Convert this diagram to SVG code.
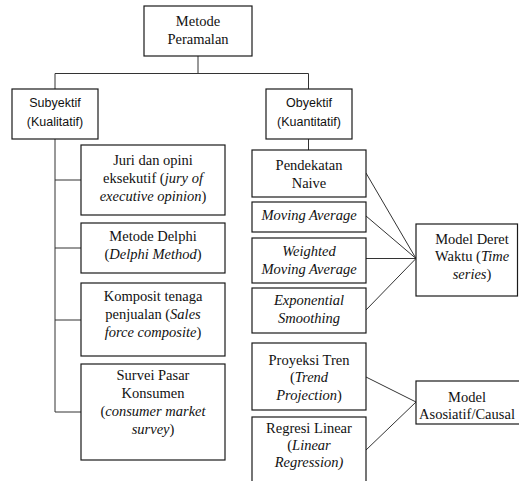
<svg xmlns="http://www.w3.org/2000/svg" width="519" height="481" viewBox="0 0 519 481">
<style>
.box{fill:#fff;stroke:#1a1a1a;stroke-width:1.2}
.t{font-family:"Liberation Serif","Times New Roman",serif;font-size:14.5px;fill:#111;text-anchor:middle}
.s{font-family:"Liberation Sans",Arial,sans-serif;font-size:12.5px;fill:#111;text-anchor:middle}
.i{font-style:italic}
.c{fill:none;stroke:#333;stroke-width:1}
</style>
<rect width="519" height="481" fill="#fff"/>
<g id="connectors">
<path class="c" d="M198 56V73.5M55 73.5H308.5M55 73.5V89M308.5 73.5V89"/>
<path class="c" d="M55 139V412M55 180H81M55 248H81M55 320H81M55 412H81"/>
<path class="c" d="M308.5 139V150"/>
<path class="c" d="M366 173L416 258.5M366 216L416 258.5M366 258.5H416M366 310L416 258.5"/>
<path class="c" d="M366 377L416 402M366 450L416 402"/>
</g>
<g id="metode-peramalan"><rect class="box" x="144" y="6" width="108" height="50"/><text class="t" x="198" y="26">Metode</text><text class="t" x="198" y="43.5">Peramalan</text></g>
<g id="subyektif"><rect class="box" x="12" y="89" width="86" height="50"/><text class="s" x="55" y="107">Subyektif</text><text class="s" x="55" y="126">(Kualitatif)</text></g>
<g id="obyektif"><rect class="box" x="266" y="89" width="86" height="50"/><text class="s" x="309" y="107">Obyektif</text><text class="s" x="309" y="126">(Kuantitatif)</text></g>
<g id="juri"><rect class="box" x="81" y="145" width="144" height="70"/><text class="t" x="153" y="164.5">Juri dan opini</text><text class="t" x="153" y="182.5">eksekutif (<tspan class="i">jury of</tspan></text><text class="t" x="153" y="200.5"><tspan class="i">executive opinion</tspan>)</text></g>
<g id="delphi"><rect class="box" x="81" y="223" width="144" height="50"/><text class="t" x="153" y="241">Metode Delphi</text><text class="t" x="153" y="259">(<tspan class="i">Delphi Method</tspan>)</text></g>
<g id="komposit"><rect class="box" x="81" y="283" width="144" height="73"/><text class="t" x="153" y="301">Komposit tenaga</text><text class="t" x="153" y="319">penjualan (<tspan class="i">Sales</tspan></text><text class="t" x="153" y="337"><tspan class="i">force composite</tspan>)</text></g>
<g id="survei"><rect class="box" x="81" y="364" width="144" height="96"/><text class="t" x="153" y="380">Survei Pasar</text><text class="t" x="153" y="398">Konsumen</text><text class="t" x="153" y="416">(<tspan class="i">consumer market</tspan></text><text class="t" x="153" y="434"><tspan class="i">survey</tspan>)</text></g>
<g id="naive"><rect class="box" x="252" y="150" width="114" height="47"/><text class="t" x="309" y="170">Pendekatan</text><text class="t" x="309" y="188">Naive</text></g>
<g id="moving-average"><rect class="box" x="252" y="202" width="114" height="30"/><text class="t i" x="309" y="220">Moving Average</text></g>
<g id="weighted"><rect class="box" x="252" y="238" width="114" height="45"/><text class="t i" x="309" y="256">Weighted</text><text class="t i" x="309" y="274">Moving Average</text></g>
<g id="exponential"><rect class="box" x="252" y="288" width="114" height="45"/><text class="t i" x="309" y="305">Exponential</text><text class="t i" x="309" y="323">Smoothing</text></g>
<g id="proyeksi"><rect class="box" x="252" y="343" width="114" height="67"/><text class="t" x="309" y="364.5">Proyeksi Tren</text><text class="t" x="309" y="382">(<tspan class="i">Trend</tspan></text><text class="t" x="309" y="399.5"><tspan class="i">Projection</tspan>)</text></g>
<g id="regresi"><rect class="box" x="252" y="417" width="114" height="70"/><text class="t" x="309" y="433">Regresi Linear</text><text class="t" x="309" y="450">(<tspan class="i">Linear</tspan></text><text class="t i" x="309" y="467">Regression)</text></g>
<g id="deret"><rect class="box" x="416" y="224" width="101.5" height="72"/><text class="t" x="472" y="243.5">Model Deret</text><text class="t" x="472" y="261">Waktu (<tspan class="i">Time</tspan></text><text class="t" x="472" y="278.5"><tspan class="i">series</tspan>)</text></g>
<g id="asosiatif"><rect class="box" x="416" y="381" width="110" height="43"/><text class="t" x="467" y="402">Model</text><text class="t" x="467" y="419">Asosiatif/Causal</text></g>
</svg>
